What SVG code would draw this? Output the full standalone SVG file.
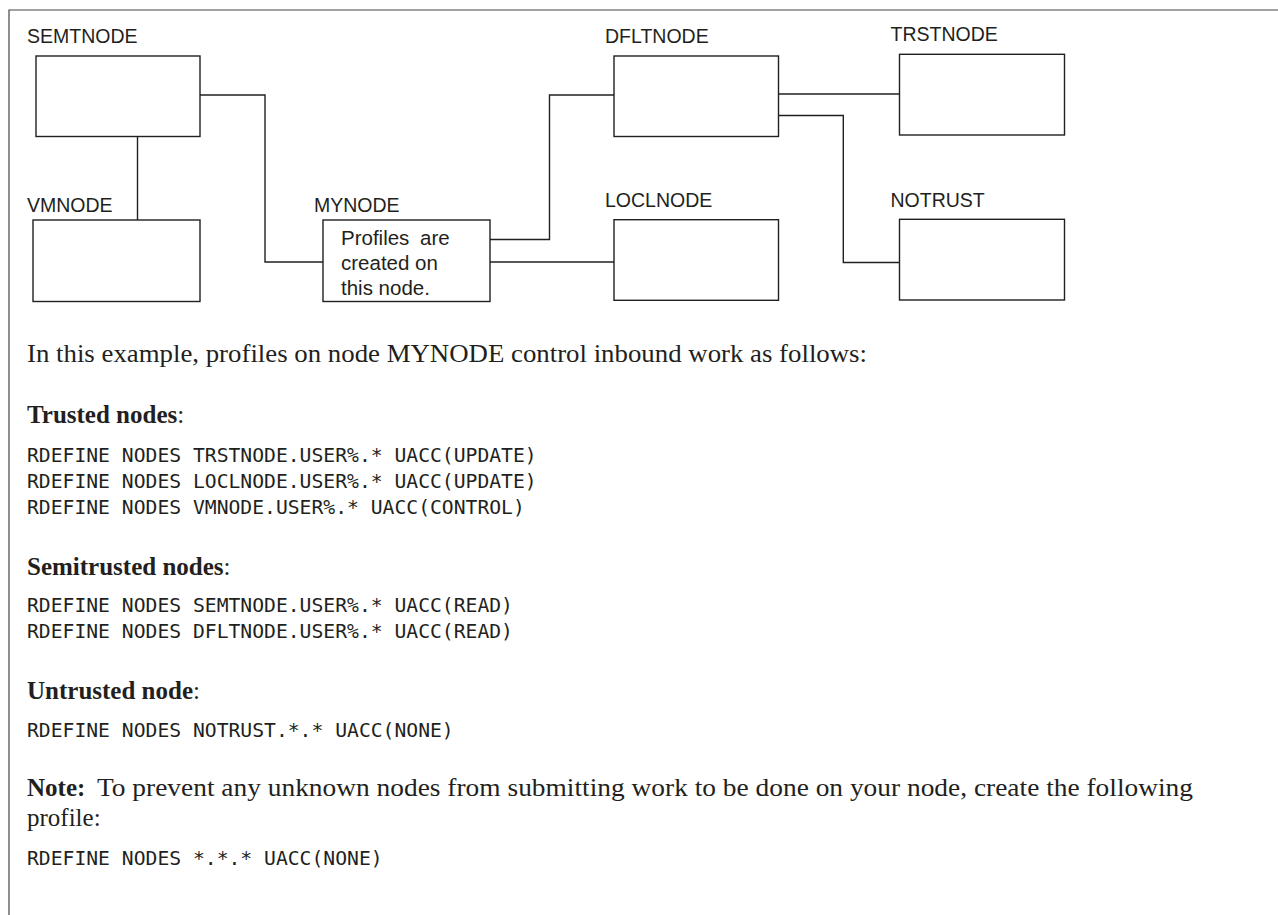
<svg xmlns="http://www.w3.org/2000/svg" width="1278" height="915" viewBox="0 0 1278 915">
<style>
.box{fill:#fff;stroke:#231f20;stroke-width:1.4}
.wire{fill:none;stroke:#231f20;stroke-width:1.4}
.lbl{font-family:"Liberation Sans",Arial,sans-serif;font-size:19.5px;fill:#231f20}
.inner{font-family:"Liberation Sans",Arial,sans-serif;font-size:20.5px;fill:#231f20}
.body{font-family:"Liberation Serif","Times New Roman",serif;font-size:25px;fill:#231f20}
.bold{font-weight:bold}
.code{font-family:"DejaVu Sans Mono","Liberation Mono",monospace;font-size:19.7px;fill:#231f20}
</style>
<rect width="1278" height="915" fill="#fff"/>
<path d="M9,915 V10 H1278" fill="none" stroke="#444" stroke-width="1.2"/>
<g id="connectors">
<path class="wire" d="M137.5,136 V220"/>
<path class="wire" d="M200,95 H265 V262 H323"/>
<path class="wire" d="M490,239.5 H549.5 V95 H614"/>
<path class="wire" d="M490,262 H614"/>
<path class="wire" d="M778.5,94 H899.5"/>
<path class="wire" d="M778.5,115.5 H843.3 V262.5 H901.7"/>
</g>
<g id="SEMTNODE">
<rect class="box" x="36" y="56" width="164" height="80.5"/>
<text class="lbl" x="27" y="43.3">SEMTNODE</text>
</g>
<g id="VMNODE">
<rect class="box" x="33" y="220" width="167" height="81.5"/>
<text class="lbl" x="27" y="211.7">VMNODE</text>
</g>
<g id="MYNODE">
<rect class="box" x="323" y="220" width="167" height="81.5"/>
<text class="lbl" x="314" y="211.7">MYNODE</text>
<text class="inner" x="341" y="245" word-spacing="5">Profiles are</text>
<text class="inner" x="341" y="270">created on</text>
<text class="inner" x="341" y="295">this node.</text>
</g>
<g id="DFLTNODE">
<rect class="box" x="614" y="56" width="164.5" height="80.5"/>
<text class="lbl" x="605" y="43.3">DFLTNODE</text>
</g>
<g id="TRSTNODE">
<rect class="box" x="899.5" y="54.3" width="165" height="80.7"/>
<text class="lbl" x="890.5" y="40.7">TRSTNODE</text>
</g>
<g id="LOCLNODE">
<rect class="box" x="614" y="219.7" width="164.5" height="80.6"/>
<text class="lbl" x="605" y="206.7">LOCLNODE</text>
</g>
<g id="NOTRUST">
<rect class="box" x="899.5" y="219.3" width="165" height="80.7"/>
<text class="lbl" x="890.5" y="206.7">NOTRUST</text>
</g>
<g id="text">
<text class="body" x="27" y="362" textLength="840" lengthAdjust="spacingAndGlyphs">In this example, profiles on node MYNODE control inbound work as follows:</text>
<text class="body" x="27" y="423"><tspan class="bold">Trusted nodes</tspan>:</text>
<text class="code" x="27" y="462">RDEFINE NODES TRSTNODE.USER%.* UACC(UPDATE)</text>
<text class="code" x="27" y="488">RDEFINE NODES LOCLNODE.USER%.* UACC(UPDATE)</text>
<text class="code" x="27" y="514">RDEFINE NODES VMNODE.USER%.* UACC(CONTROL)</text>
<text class="body" x="27" y="575"><tspan class="bold">Semitrusted nodes</tspan>:</text>
<text class="code" x="27" y="612">RDEFINE NODES SEMTNODE.USER%.* UACC(READ)</text>
<text class="code" x="27" y="638">RDEFINE NODES DFLTNODE.USER%.* UACC(READ)</text>
<text class="body" x="27" y="699"><tspan class="bold">Untrusted node</tspan>:</text>
<text class="code" x="27" y="737">RDEFINE NODES NOTRUST.*.* UACC(NONE)</text>
<text class="body bold" x="27" y="796">Note:</text>
<text class="body" x="97" y="796" textLength="1096" lengthAdjust="spacingAndGlyphs">To prevent any unknown nodes from submitting work to be done on your node, create the following</text>
<text class="body" x="27" y="826">profile:</text>
<text class="code" x="27" y="865">RDEFINE NODES *.*.* UACC(NONE)</text>
</g>
</svg>
